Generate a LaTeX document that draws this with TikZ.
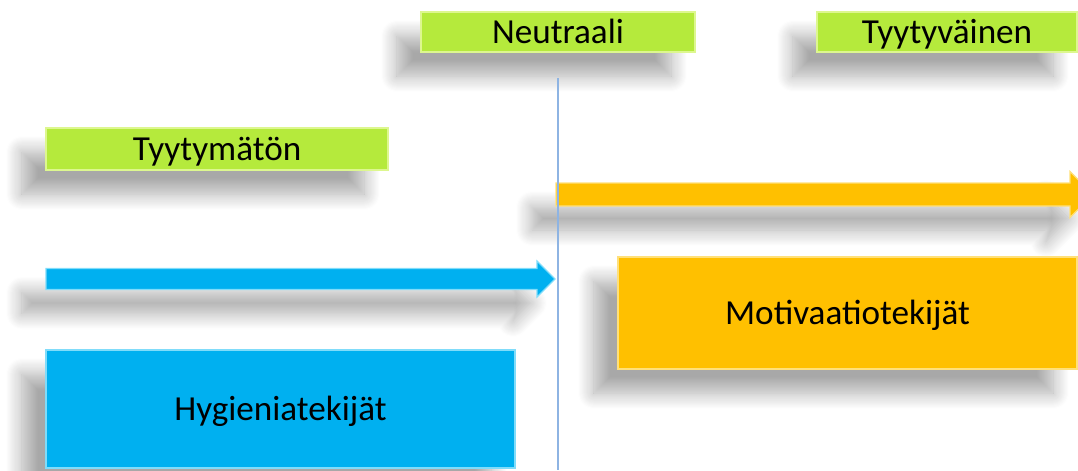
\documentclass[tikz,border=0pt]{standalone}
\usepackage{fontspec}
\setmainfont{Carlito}
\usetikzlibrary{positioning,calc,shadows.blur}
\definecolor{lblgreen}{HTML}{B5EA3C}
\definecolor{lblrim}{HTML}{DDF78F}
\definecolor{motorange}{HTML}{FFC000}
\definecolor{motrim}{HTML}{FFE07A}
\definecolor{hygblue}{HTML}{00B0F0}
\definecolor{hygrim}{HTML}{80DCFA}
\definecolor{axisblue}{HTML}{8EB4E3}

\begin{document}
\begin{tikzpicture}[x=0.025cm, y=-0.025cm, font=\fontsize{25}{30}\selectfont,
  softshadow/.style={blur shadow={shadow xshift=-0.6cm, shadow yshift=-0.6cm,
      shadow blur radius=0.4cm, shadow blur steps=16, shadow opacity=34}},
  lbl/.style={softshadow, fill=lblgreen, draw=lblrim, line width=1pt,
      minimum height=1cm, inner sep=0pt, text height=16pt, text depth=0pt},
  factor/.style={softshadow, line width=1pt, inner sep=0pt,
      text height=16pt, text depth=0pt},
  bar/.style={softshadow, line width=0.8pt, line join=miter}]
  \clip (0,0) rectangle (1078,470);

  % scale labels
  \node[lbl, minimum width=6.85cm] (neutral) at (558,32) {Neutraali};
  \node[lbl, minimum width=6.5cm] (happy) at (947,32) {Tyytyväinen};
  \node[lbl, minimum width=8.55cm, minimum height=1.05cm] (unhappy) at (217,149) {Tyytymätön};

  % direction bars
  \coordinate (mottail) at (556,194.5);
  \coordinate (hygtail) at (46,279);
  \filldraw[bar, fill=motorange, draw=motrim] (mottail) ++(0,-11.5) -- ++(514,0) -- ++(0,-11.5)
    -- ++(23,23) -- ++(-23,23) -- ++(0,-11.5) -- ++(-514,0) -- cycle;
  \filldraw[bar, fill=hygblue, draw=hygrim] (hygtail) ++(0,-10.5) -- ++(491,0) -- ++(0,-7.5)
    -- ++(18,18) -- ++(-18,18) -- ++(0,-7.5) -- ++(-491,0) -- cycle;

  % factor boxes
  \node[factor, fill=motorange, draw=motrim, minimum width=11.475cm, minimum height=2.8cm]
        (motiv) at (847.5,313) {Motivaatiotekijät};
  \node[factor, fill=hygblue, draw=hygrim, minimum width=11.725cm, minimum height=2.95cm]
        (hygiene) at (280.5,409) {Hygieniatekijät};

  % neutral axis
  \coordinate (axisbot) at (558,470);
  \draw[axisblue, line width=0.8pt] ($(neutral.south)+(0,25)$) -- (neutral.south |- axisbot);
\end{tikzpicture}
\end{document}
